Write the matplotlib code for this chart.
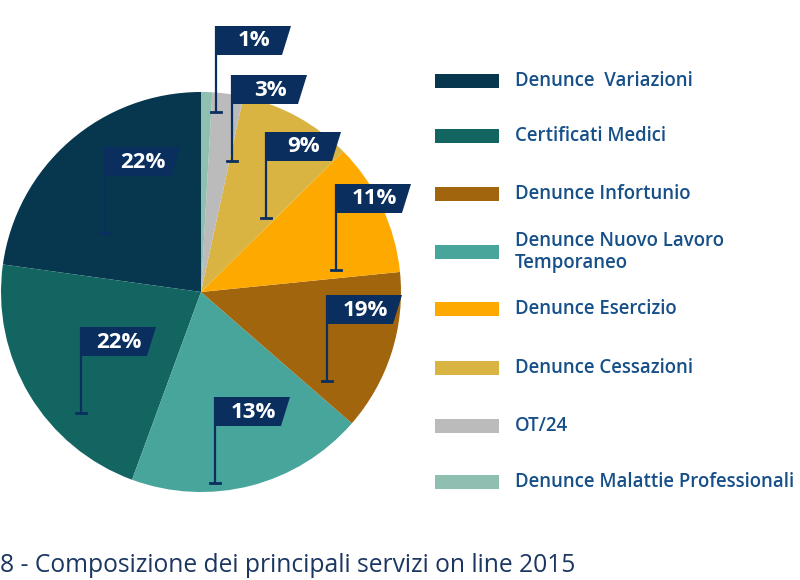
import matplotlib.pyplot as plt
from matplotlib.patches import Polygon, Rectangle

# slice shares as drawn (counterclockwise from 12 o'clock)
slice_names = ["Denunce  Variazioni", "Certificati Medici", "Denunce Nuovo Lavoro\nTemporaneo",
               "Denunce Infortunio", "Denunce Esercizio", "Denunce Cessazioni",
               "OT/24", "Denunce Malattie Professionali"]
slice_values = [22.8, 21.6, 19.2, 13.0, 10.8, 9.2, 2.5, 0.9]
slice_colors = ["#06374f", "#126560", "#47a59b", "#a1650e", "#fea900", "#d9b443", "#bbbbbb", "#8ebfb1"]

# flag labels as printed on the chart
flag_labels = ["22%", "22%", "13%", "19%", "11%", "9%", "3%", "1%"]

# legend order
legend_names = ["Denunce  Variazioni", "Certificati Medici", "Denunce Infortunio",
                "Denunce Nuovo Lavoro\nTemporaneo", "Denunce Esercizio", "Denunce Cessazioni",
                "OT/24", "Denunce Malattie Professionali"]

title = "8 - Composizione dei principali servizi on line 2015"

# layout (pixel positions, y from top)
flag_pos = [(105, 147), (81, 327), (215, 397), (327, 295), (336, 184), (266, 132), (232, 75), (216, 26)]
legend_y = [81, 136, 194, 252, 309, 368, 426, 482]

H = 580
flag_col = "#0a2f5f"
text_col = "#175089"

fig = plt.figure(figsize=(8, 5.8), dpi=100)
ax = fig.add_axes([0, 0, 1, 1])

ax.pie(slice_values, colors=slice_colors, startangle=90, counterclock=True,
       center=(201, H - 292), radius=200, frame=True,
       wedgeprops=dict(linewidth=0))

for (px, top), lab in zip(flag_pos, flag_labels):
    bottom = top + 86
    ax.plot([px, px], [H - top, H - bottom], color=flag_col, lw=1.6, solid_capstyle="butt", zorder=5)
    ax.plot([px - 5, px + 5], [H - bottom, H - bottom], color=flag_col, lw=2, zorder=5)
    ax.add_patch(Polygon([(px, H - top), (px + 75, H - top), (px + 66, H - top - 29), (px, H - top - 29)],
                         closed=True, facecolor=flag_col, edgecolor="none", zorder=6))
    ax.text(px + 38, H - top - 15, lab, color="white", fontsize=16, fontweight="bold",
            family="Open Sans", ha="center", va="center", zorder=7)

for name, y in zip(legend_names, legend_y):
    col = slice_colors[slice_names.index(name)]
    ax.add_patch(Rectangle((435, H - y - 7.3), 64, 14.6, facecolor=col, edgecolor="none"))
    ax.text(515, H - y, name, color=text_col, fontsize=13.4, family="Open Sans", fontweight="semibold",
            ha="left", va="center", linespacing=1.15)

ax.text(0, H - 566, title, color="#1b3660", fontsize=17.7, family="Open Sans", fontweight="medium",
        ha="left", va="center")

ax.set_xlim(0, 800)
ax.set_ylim(0, H)
ax.axis("off")

fig.savefig("out.png", dpi=100)
